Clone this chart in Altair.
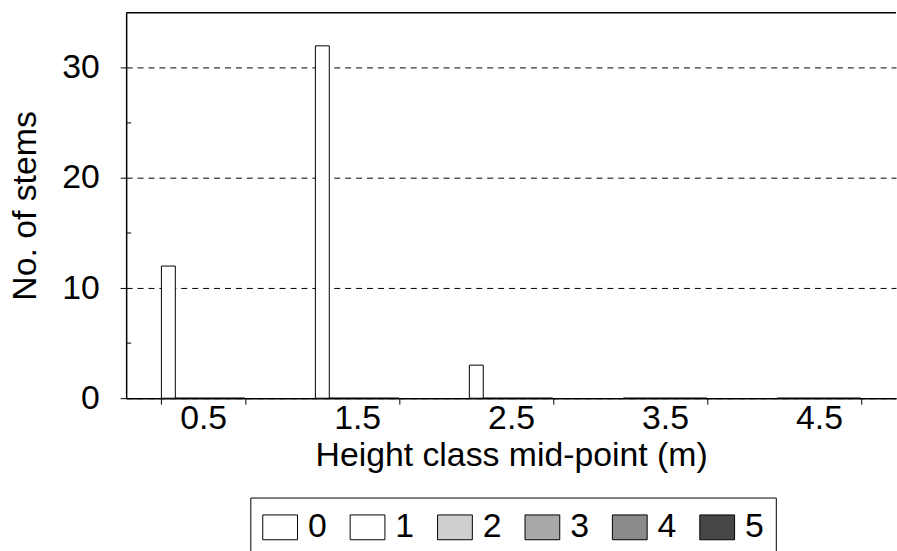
import altair as alt
import pandas as pd

categories = ["0.5", "1.5", "2.5", "3.5", "4.5"]
series = ["0", "1", "2", "3", "4", "5"]
values = {
    "0": [12, 32, 3, 0, 0],
    "1": [0, 0, 0, 0, 0],
    "2": [0, 0, 0, 0, 0],
    "3": [0, 0, 0, 0, 0],
    "4": [0, 0, 0, 0, 0],
    "5": [0, 0, 0, 0, 0],
}
series_colors = ["#ffffff", "#ffffff", "#cfcfcf", "#a8a8a8", "#8a8a8a", "#474747"]
y_ticks = [0, 10, 20, 30]
y_minor = [5, 15, 25]
y_max = [35]

rows = []
for s in series:
    for c, v in zip(categories, values[s]):
        rows.append({"cls": c, "series": s, "stems": v})
df = pd.DataFrame(rows)
minor_df = pd.DataFrame({"v": y_minor})
top_df = pd.DataFrame({"v": y_max})

FONT = "Liberation Sans"
FS = 34
W = 775

bars = alt.Chart(df).mark_bar(stroke="black", strokeWidth=1).encode(
    x=alt.X("cls:N", sort=categories,
            scale=alt.Scale(paddingInner=0.458, paddingOuter=0.229),
            axis=alt.Axis(title="Height class mid-point (m)", labelAngle=0,
                          tickBand="extent", tickSize=6, labelPadding=-2,
                          titlePadding=3, domainColor="black", tickColor="black",
                          domainWidth=1.5, grid=False,
                          labelFont=FONT, titleFont=FONT, labelFontSize=FS,
                          titleFontSize=FS, labelColor="black", titleColor="black",
                          titleFontWeight="normal")),
    xOffset=alt.XOffset("series:N", sort=series, scale=alt.Scale(paddingInner=0, paddingOuter=0)),
    y=alt.Y("stems:Q", scale=alt.Scale(domain=[0, 35], nice=False),
            axis=alt.Axis(title="No. of stems", values=y_ticks, tickSize=6,
                          labelPadding=21, titlePadding=19, grid=True,
                          gridDash=[6, 5], gridColor="black", gridWidth=1,
                          domainColor="black", tickColor="black", domainWidth=1.5,
                          labelFont=FONT, titleFont=FONT, labelFontSize=FS,
                          titleFontSize=FS, labelColor="black", titleColor="black",
                          titleFontWeight="normal")),
    fill=alt.Fill("series:N", sort=series,
                  scale=alt.Scale(domain=series, range=series_colors),
                  legend=alt.Legend(title=None, orient="none", direction="horizontal",
                                    columns=6, legendX=125, legendY=488,
                                    symbolType="M-1,-0.714L1,-0.714L1,0.714L-1,0.714Z",
                                    symbolSize=1225, symbolStrokeColor="black",
                                    symbolStrokeWidth=1, labelFontSize=FS,
                                    labelFont=FONT, labelColor="black",
                                    labelOffset=10, columnPadding=21,
                                    padding=12, strokeColor="black")),
)

minor = alt.Chart(minor_df).mark_rule(color="black", strokeWidth=1).encode(
    y="v:Q", x=alt.value(0), x2=alt.value(5)
)

top = alt.Chart(top_df).mark_rule(color="black", strokeWidth=1.5).encode(
    y="v:Q", x=alt.value(0), x2=alt.value(W)
)

chart = alt.layer(bars, minor, top).properties(
    width=W, height=388, background="white",
    padding={"left": 9, "top": 10, "right": 0, "bottom": 0},
).configure_view(stroke="transparent", strokeWidth=0)

chart.save("out.html", embed_options={"renderer": "svg", "actions": False})
